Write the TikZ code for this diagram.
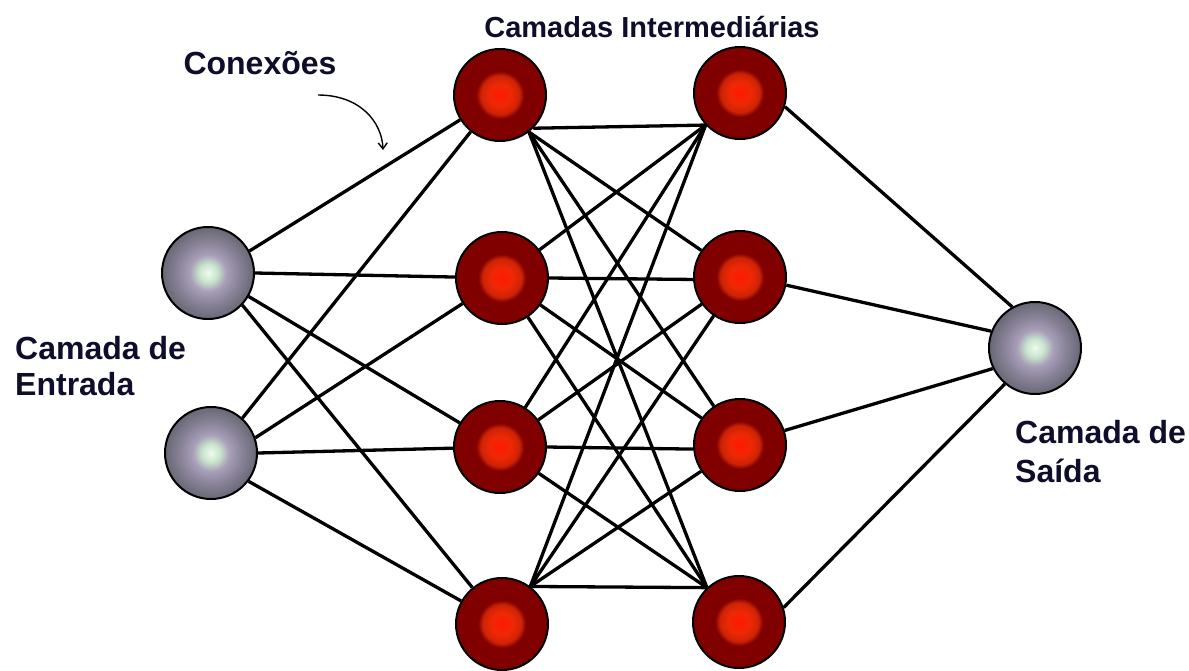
\documentclass[tikz,border=0pt]{standalone}
\usepackage{fontspec}
\setmainfont{Liberation Sans}
\usetikzlibrary{arrows.meta}
\definecolor{txtc}{RGB}{14,14,44}
\definecolor{rc0}{RGB}{255,25,0}
\definecolor{rc1}{RGB}{238,40,5}
\definecolor{rc2}{RGB}{205,35,5}
\definecolor{rc3}{RGB}{128,0,0}
\definecolor{gc0}{RGB}{238,252,238}
\definecolor{gc1}{RGB}{200,228,205}
\definecolor{gc2}{RGB}{168,158,184}
\definecolor{gc3}{RGB}{136,130,152}
\definecolor{gc4}{RGB}{104,104,116}
\pgfdeclareradialshading{redball}{\pgfpoint{0bp}{0bp}}{color(0bp)=(rc0); color(6bp)=(rc1); color(10.5bp)=(rc2); color(13bp)=(rc3); color(25bp)=(rc3); color(50bp)=(rc3)}
\pgfdeclareradialshading{grayball}{\pgfpoint{0bp}{0bp}}{color(0bp)=(gc0); color(5bp)=(gc1); color(10bp)=(gc2); color(17bp)=(gc3); color(25bp)=(gc4); color(50bp)=(gc4)}
\tikzset{
  neuronr/.style={circle, draw=black, line width=2pt, minimum size=92pt, inner sep=0pt, shading=redball},
  neurong/.style={circle, draw=black, line width=2pt, minimum size=92pt, inner sep=0pt, shading=grayball},
  conn/.style={black, line width=3.3pt},
  lbl/.style={text=txtc, font=\bfseries\fontsize{32}{38}\selectfont, inner sep=0pt},
  ttl/.style={text=txtc, font=\bfseries\fontsize{29}{35}\selectfont, inner sep=0pt}
}
\begin{document}
\begin{tikzpicture}[x=1pt, y=-1pt]
\useasboundingbox (0,0) rectangle (1189,670);
\fill[white] (0,0) rectangle (1189,670);
% nodes
\node[neurong] (i1) at (208,273) {};
\node[neurong] (i2) at (211,453) {};
\node[neuronr] (a1) at (500,95) {};
\node[neuronr] (a2) at (502,278) {};
\node[neuronr] (a3) at (500,447) {};
\node[neuronr] (a4) at (502,624) {};
\node[neuronr] (b1) at (740,93) {};
\node[neuronr] (b2) at (740,277) {};
\node[neuronr] (b3) at (740,445) {};
\node[neuronr] (b4) at (739,622) {};
\node[neurong] (o) at (1035,348) {};
% input -> hidden 1
\draw[conn] (i1.28) -- (a1);
\draw[conn] (i1.0) -- (a2);
\draw[conn] (i1.-30) -- (a3);
\draw[conn] (i1.-43) -- (a4);
\draw[conn] (i2.48) -- (a1);
\draw[conn] (i2.19) -- (a2);
\draw[conn] (i2.0) -- (a3);
\draw[conn] (i2.-37) -- (a4);
% hidden 1 -> hidden 2
\draw[conn] (a1.-45) -- (b1.-137);
\draw[conn] (a1.-52) -- (b2);
\draw[conn] (a1.-52) -- (b3);
\draw[conn] (a1.-52) -- (b4.133);
\draw[conn] (a2) -- (b1.-137);
\draw[conn] (a2.0) -- (b2.183);
\draw[conn] (a2) -- (b3);
\draw[conn] (a2) -- (b4.133);
\draw[conn] (a3) -- (b1.-137);
\draw[conn] (a3) -- (b2);
\draw[conn] (a3.0) -- (b3.185);
\draw[conn] (a3) -- (b4.133);
\draw[conn] (a4.53) -- (b1.-137);
\draw[conn] (a4.53) -- (b2);
\draw[conn] (a4.53) -- (b3);
\draw[conn] (a4.53) -- (b4.133);
% hidden 2 -> output
\draw[conn] (b1.-17) -- (o.119);
\draw[conn] (b2.-10) -- (o.159);
\draw[conn] (b3.18) -- (o.206);
\draw[conn] (b4.18) -- (o.230);
% labels
\node[ttl, anchor=base] (tH) at (652,37) {Camadas Intermediárias};
\node[lbl, anchor=base] (tC) at (260,74) {Conexões};
\node[lbl, anchor=base west] (tE1) at (15,359) {Camada de};
\node[lbl, anchor=base west] (tE2) at (15,395) {Entrada};
\node[lbl, anchor=base west] (tS1) at (1015,443) {Camada de};
\node[lbl, anchor=base west] (tS2) at (1015,482) {Saída};
% curved arrow
\coordinate (cs) at (318,95);
\coordinate (ce) at (383,150);
\draw[black, line width=1.4pt, -{Straight Barb[length=6pt,width=9pt]}] (cs) .. controls (360,95) and (382,122) .. (ce);
\end{tikzpicture}
\end{document}
